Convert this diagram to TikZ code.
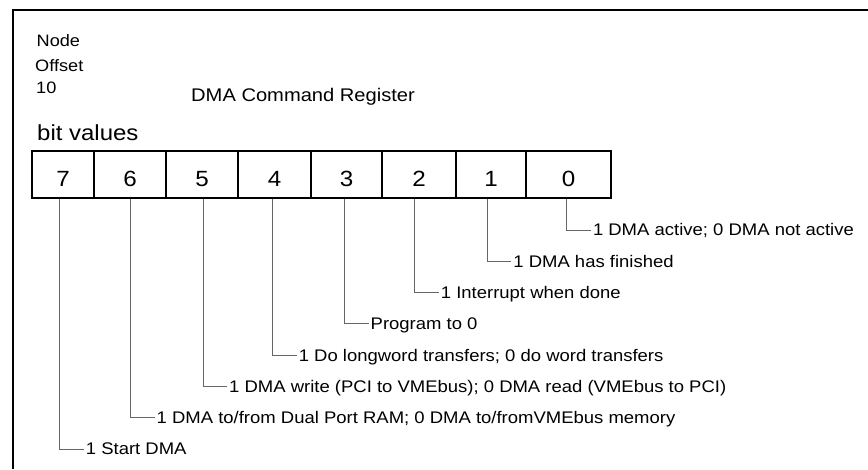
\documentclass[tikz,border=0pt]{standalone}
\usepackage{fontspec}
\setmainfont{Liberation Sans}[FakeStretch=1.1]
\begin{document}
\begin{tikzpicture}[x=1pt,y=1pt,
  frame/.style={draw=black,line width=2pt},
  cell/.style={draw=black,line width=2pt,minimum height=47pt,inner sep=0pt,
    text height=23pt,text depth=0pt,font=\fontsize{22pt}{24pt}\selectfont},
  lab/.style={anchor=west,inner sep=2pt,text height=11.8pt,text depth=0pt,
    font=\fontsize{16.8pt}{18pt}\selectfont},
  small/.style={anchor=base west,inner sep=0pt,font=\fontsize{16.5pt}{18pt}\selectfont},
  conn/.style={draw=black!60,line width=1pt}]
\useasboundingbox (0,0) rectangle (868,-469);
\draw[frame] (13,-469) -- (13,-10) -- (868,-10);

\node[small] (node) at (36.5,-46) {Node};
\node[small] (offset) at (35,-71) {Offset};
\node[small] (ten) at (36,-93) {10};
\node[anchor=base west,inner sep=0pt,font=\fontsize{18.3pt}{20pt}\selectfont] (title) at (191,-101) {DMA Command Register};
\node[anchor=base west,inner sep=0pt,font=\fontsize{21.8pt}{24pt}\selectfont] (bv) at (37,-140) {bit values};

% connectors first (behind box)
\coordinate (t7) at (59.7,-198);
\coordinate (t6) at (130.5,-198);
\coordinate (t5) at (203,-198);
\coordinate (t4) at (272.6,-198);
\coordinate (t3) at (344.5,-198);
\coordinate (t2) at (414.7,-198);
\coordinate (t1) at (487.2,-198);
\coordinate (t0) at (566.8,-198);

\node[lab] (l0) at (590.8,-230) {1 DMA active; 0 DMA not active};
\node[lab] (l1) at (511.2,-261.3) {1 DMA has finished};
\node[lab] (l2) at (438.7,-292.6) {1 Interrupt when done};
\node[lab] (l3) at (368.5,-323.9) {Program to 0};
\node[lab] (l4) at (296.6,-355.1) {1 Do longword transfers; 0 do word transfers};
\node[lab] (l5) at (227,-386.4) {1 DMA write (PCI to VMEbus); 0 DMA read (VMEbus to PCI)};
\node[lab] (l6) at (154.5,-417.7) {1 DMA to/from Dual Port RAM; 0 DMA to/fromVMEbus memory};
\node[lab] (l7) at (83.7,-449) {1 Start DMA};

\foreach \i in {0,...,7} {\draw[conn] (t\i) |- (l\i.west);}

\node[cell,minimum width=62pt] (c7) at (63,-174.5) {7};
\node[cell,minimum width=72pt] (c6) at (130,-174.5) {6};
\node[cell,minimum width=72pt] (c5) at (202,-174.5) {5};
\node[cell,minimum width=73pt] (c4) at (274.5,-174.5) {4};
\node[cell,minimum width=71pt] (c3) at (346.5,-174.5) {3};
\node[cell,minimum width=74pt] (c2) at (419,-174.5) {2};
\node[cell,minimum width=70pt] (c1) at (491,-174.5) {1};
\node[cell,minimum width=85pt] (c0) at (568.5,-174.5) {0};
\end{tikzpicture}
\end{document}
